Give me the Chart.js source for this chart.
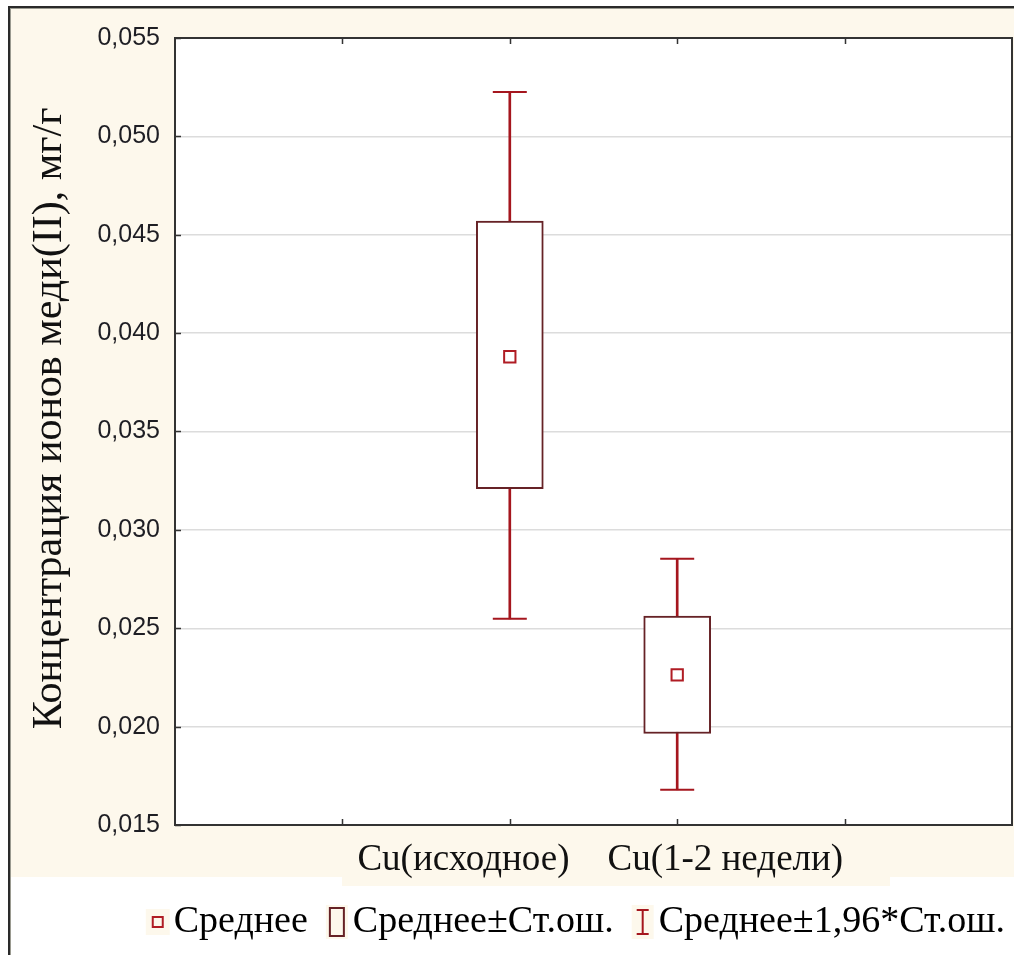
<!DOCTYPE html>
<html>
<head>
<meta charset="utf-8">
<script src="https://cdn.jsdelivr.net/npm/chart.js@4.4.0/dist/chart.umd.min.js"></script>
<style>
  html, body { margin: 0; padding: 0; background: #fff; }
</style>
</head>
<body>
<canvas id="chart" width="1014" height="955"></canvas>
<script>
// Groups and their statistics (mg/g)
const groups = ['Cu(исходное)', 'Cu(1-2 недели)'];
const means = [0.0388, 0.02263];
const seLow = [0.0321, 0.01965];
const seHigh = [0.0457, 0.02562];
const ciLow = [0.02548, 0.01679];
const ciHigh = [0.05226, 0.02853];

// Axis
const yMin = 0.015;
const yMax = 0.055;
const yStep = 0.005;
const yTitle = 'Концентрация ионов меди(II), мг/г';
const legendNames = ['Среднее', 'Среднее±Ст.ош.', 'Среднее±1,96*Ст.ош.'];

const cream = '#fdf8ec';
const boxColor = '#662226';
const whiskerColor = '#a5161e';
const meanColor = '#b01c24';
const serif = "'Liberation Serif', 'Times New Roman', serif";
const sans = "'Liberation Sans', Arial, sans-serif";

// groups sit in the middle slots, two empty slots on each side
const slot = (i) => i + 2;
const slotCount = groups.length + 3;

// Legend icons: the glyph sits a little right of the canvas centre so it
// ends up closer to its label
function makeIcon(w, h, draw) {
  const c = document.createElement('canvas');
  c.width = 40;
  c.height = h;
  const g = c.getContext('2d');
  const left = 24 - w / 2;
  g.fillStyle = cream;
  g.fillRect(left, 0, w, h);
  g.translate(left, 0);
  draw(g);
  return c;
}
const meanIcon = makeIcon(24, 26, (g) => {
  g.strokeStyle = meanColor;
  g.lineWidth = 2;
  g.strokeRect(7, 8, 10, 10);
});
const boxIcon = makeIcon(22, 34, (g) => {
  g.strokeStyle = boxColor;
  g.lineWidth = 2;
  g.strokeRect(4, 3, 14, 28);
});
const ciIcon = makeIcon(22, 34, (g) => {
  g.strokeStyle = whiskerColor;
  g.lineWidth = 2;
  g.beginPath();
  g.moveTo(5, 5); g.lineTo(17, 5);
  g.moveTo(11, 5); g.lineTo(11, 29);
  g.moveTo(5, 29); g.lineTo(17, 29);
  g.stroke();
});
const legendIcons = [meanIcon, boxIcon, ciIcon];

// Cream panel, white plot area and frame lines
const backgroundPlugin = {
  id: 'background',
  beforeDraw(chart) {
    const { ctx, chartArea: a, width, height } = chart;
    ctx.save();
    ctx.fillStyle = '#fff';
    ctx.fillRect(0, 0, width, height);
    ctx.fillStyle = cream;
    ctx.fillRect(10, 8, width - 10, 869);
    ctx.fillRect(342, 877, 548, 9);
    ctx.fillStyle = '#fff';
    ctx.fillRect(a.left, a.top, a.right - a.left, a.bottom - a.top);
    ctx.fillStyle = '#2a2a2a';
    ctx.fillRect(8, 6, width - 8, 2);
    ctx.fillRect(8, 6, 2, height - 6);
    ctx.fillStyle = '#9a9a90';
    ctx.fillRect(10, 8, width - 10, 1);
    ctx.fillRect(10, 8, 1, height - 8);
    ctx.restore();
  }
};

// Plot frame, inward tick marks, group labels and the y title
const framePlugin = {
  id: 'frame',
  afterDraw(chart) {
    const { ctx, chartArea: a } = chart;
    const x = chart.scales.x;
    const y = chart.scales.y;
    ctx.save();
    ctx.strokeStyle = '#333';
    ctx.lineWidth = 2;
    ctx.strokeRect(a.left, a.top, a.right - a.left, a.bottom - a.top);

    ctx.lineWidth = 1.5;
    ctx.beginPath();
    for (let v = 1; v < slotCount; v++) {
      const px = Math.round(x.getPixelForValue(v)) + 0.5;
      ctx.moveTo(px, a.bottom); ctx.lineTo(px, a.bottom - 6);
      ctx.moveTo(px, a.top); ctx.lineTo(px, a.top + 6);
    }
    y.ticks.forEach((t) => {
      const py = Math.round(y.getPixelForValue(t.value)) + 0.5;
      ctx.moveTo(a.left, py); ctx.lineTo(a.left + 6, py);
    });
    ctx.stroke();

    // the two group names are set side by side around the midpoint
    const p0 = x.getPixelForValue(slot(0));
    const p1 = x.getPixelForValue(slot(1));
    const mid = (p0 + p1) / 2 - 5;
    ctx.font = '37px ' + serif;
    ctx.fillStyle = '#111';
    ctx.textBaseline = 'middle';
    ctx.textAlign = 'right';
    ctx.fillText(groups[0], mid - 19, a.bottom + 35);
    ctx.textAlign = 'left';
    ctx.fillText(groups[1], mid + 19, a.bottom + 35);

    ctx.translate(50, (a.top + a.bottom) / 2 - 13);
    ctx.rotate(-Math.PI / 2);
    ctx.textAlign = 'center';
    ctx.font = '42px ' + serif;
    ctx.fillText(yTitle, 0, 0);
    ctx.restore();
  }
};

const ctx = document.getElementById('chart').getContext('2d');
new Chart(ctx, {
  type: 'bar',
  data: {
    datasets: [
      {
        // mean
        type: 'scatter',
        order: 1,
        data: groups.map((g, i) => ({ x: slot(i), y: means[i] })),
        pointStyle: 'rect',
        pointRadius: 8,
        pointBackgroundColor: '#fff',
        pointBorderColor: meanColor,
        pointBorderWidth: 2
      },
      {
        // whisker caps at mean ± 1.96 SE
        type: 'scatter',
        order: 2,
        data: groups.flatMap((g, i) => [
          { x: slot(i), y: ciLow[i] },
          { x: slot(i), y: ciHigh[i] }
        ]),
        pointStyle: 'line',
        pointRadius: 17,
        pointBorderColor: whiskerColor,
        pointBorderWidth: 2
      },
      {
        // mean ± SE box
        type: 'bar',
        order: 3,
        grouped: false,
        data: groups.map((g, i) => ({ x: slot(i), y: [seLow[i], seHigh[i]] })),
        backgroundColor: '#fff',
        borderColor: boxColor,
        borderWidth: 2,
        borderSkipped: false,
        barThickness: 67
      },
      {
        // whisker stem
        type: 'bar',
        order: 4,
        grouped: false,
        data: groups.map((g, i) => ({ x: slot(i), y: [ciLow[i], ciHigh[i]] })),
        backgroundColor: whiskerColor,
        borderWidth: 0,
        barThickness: 2
      }
    ]
  },
  options: {
    responsive: false,
    animation: false,
    events: [],
    layout: {
      autoPadding: false,
      // legend runs a little past the right edge; the spacer axis keeps the plot inside
      padding: { left: 10, top: 38, right: -15, bottom: 4 }
    },
    scales: {
      x: {
        type: 'linear',
        min: 0,
        max: slotCount,
        offset: false,
        grid: { display: false },
        border: { display: false },
        ticks: { display: false, stepSize: 1 },
        afterFit: (s) => { s.height = 54; }
      },
      y: {
        min: yMin,
        max: yMax,
        grid: { color: '#dcdcdc', lineWidth: 1.5, drawTicks: false },
        border: { display: false },
        ticks: {
          stepSize: yStep,
          padding: 15,
          color: '#1e1e24',
          font: { family: sans, size: 25 },
          callback: (v) => v.toFixed(3).replace('.', ',')
        },
        afterFit: (s) => { s.width = 165; }
      },
      spacer: {
        type: 'linear',
        position: 'right',
        grid: { display: false },
        border: { display: false },
        ticks: { display: false },
        afterFit: (s) => { s.width = 17; }
      }
    },
    plugins: {
      tooltip: { enabled: false },
      legend: {
        position: 'bottom',
        align: 'end',
        labels: {
          usePointStyle: true,
          boxWidth: 2,
          padding: 24,
          color: '#000',
          font: { family: serif, size: 38 },
          generateLabels: () => legendNames.map((name, i) => ({
            text: name,
            pointStyle: legendIcons[i],
            fillStyle: cream,
            strokeStyle: cream,
            lineWidth: 0,
            hidden: false,
            datasetIndex: i
          }))
        }
      }
    }
  },
  plugins: [backgroundPlugin, framePlugin]
});
</script>
</body>
</html>
